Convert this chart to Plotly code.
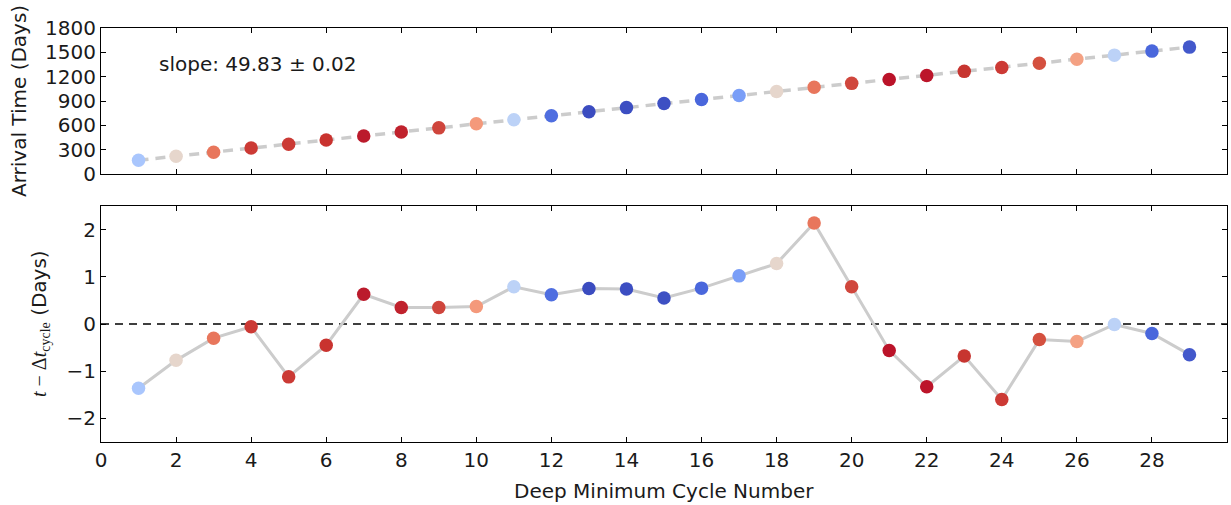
import numpy as np
import plotly.graph_objects as go
from plotly.subplots import make_subplots

# Deep minimum cycle numbers
cycle = list(range(1, 30))

# Arrival time of each deep minimum (days)
arrival_days = [168.5, 218.9, 269.2, 319.3, 368.0, 418.5, 469.4, 519.0, 568.8, 618.7,
                668.9, 718.6, 768.5, 818.4, 868.0, 918.0, 968.1, 1018.2, 1068.9, 1117.4,
                1165.9, 1214.9, 1265.4, 1314.3, 1365.4, 1415.2, 1465.4, 1515.0, 1564.4]

# Residual from the mean cycle length (days)
residual_days = [-1.36, -0.77, -0.30, -0.06, -1.12, -0.45, 0.63, 0.35, 0.35, 0.37,
                 0.79, 0.62, 0.75, 0.74, 0.55, 0.76, 1.02, 1.28, 2.14, 0.79,
                 -0.56, -1.33, -0.68, -1.60, -0.33, -0.37, -0.01, -0.20, -0.65]

# Per-point colours (coolwarm colormap)
point_colors = ["#a9c6fd", "#e6d6cc", "#e8765c", "#cc3a35", "#cb3a35", "#c9332f", "#bb1b2c",
                "#c0222d", "#cf453c", "#f4997b", "#bcd2f7", "#4f6ee0", "#3b4cc0", "#3c4ec2",
                "#3d50c3", "#4a67dc", "#7a9ef7", "#e6d6cc", "#e8765c", "#d0473d", "#bb1329",
                "#bc152a", "#c73530", "#cc3a35", "#d4503f", "#f4a183", "#bcd2f7", "#4a67dc",
                "#4358cb"]

slope_text = "slope: 49.83 ± 0.02"

FONT = "DejaVu Sans"
FS = 20
TXT = "#1a1a1a"
GRAY = "#cccccc"

fit = np.polyfit(cycle, arrival_days, 1)
fit_y = np.polyval(fit, cycle)

fig = make_subplots(rows=2, cols=1, shared_xaxes=False, vertical_spacing=0.0)

# Upper panel: arrival times with linear fit
fig.add_trace(go.Scatter(x=cycle, y=fit_y, mode="lines",
                         line=dict(color=GRAY, width=3.5, dash="10px,7px"),
                         hoverinfo="skip", showlegend=False), row=1, col=1)
fig.add_trace(go.Scatter(x=cycle, y=arrival_days, mode="markers",
                         marker=dict(size=13.5, color=point_colors, line=dict(width=0)),
                         showlegend=False), row=1, col=1)

# Lower panel: residuals
fig.add_trace(go.Scatter(x=[0, 30], y=[0, 0], mode="lines",
                         line=dict(color="black", width=1.6, dash="8px,6px"),
                         hoverinfo="skip", showlegend=False), row=2, col=1)
fig.add_trace(go.Scatter(x=cycle, y=residual_days, mode="lines",
                         line=dict(color=GRAY, width=3),
                         hoverinfo="skip", showlegend=False), row=2, col=1)
fig.add_trace(go.Scatter(x=cycle, y=residual_days, mode="markers",
                         marker=dict(size=13.5, color=point_colors, line=dict(width=0)),
                         showlegend=False), row=2, col=1)

axis_common = dict(showline=True, linecolor="black", linewidth=1.2, mirror="ticks",
                   ticks="inside", ticklen=5, tickwidth=1, tickcolor="black",
                   showgrid=False, zeroline=False,
                   tickfont=dict(family=FONT, size=FS, color=TXT))

fig.update_xaxes(range=[0, 30], tickvals=list(range(0, 30, 2)), **axis_common)
fig.update_xaxes(showticklabels=False, row=1, col=1)
fig.update_yaxes(range=[0, 1800], tickvals=list(range(0, 1801, 300)), row=1, col=1, **axis_common)
fig.update_yaxes(range=[-2.5, 2.5], tickvals=[-2, -1, 0, 1, 2], row=2, col=1, **axis_common)

L, R, T, B = 101, 4, 28, 63
W, H = 1231, 505
plot_h = H - T - B
plot_w = W - L - R


def py(pix):
    return (H - B - pix) / plot_h


def px(pix):
    return (pix - L) / plot_w


fig.update_layout(
    width=W, height=H,
    margin=dict(l=L, r=R, t=T, b=B),
    paper_bgcolor="white", plot_bgcolor="white",
    font=dict(family=FONT, size=FS, color=TXT),
    yaxis=dict(domain=[py(174), 1.0]),
    yaxis2=dict(domain=[0.0, py(206)]),
)

label_font = dict(family=FONT, size=FS, color=TXT)
annotations = [
    dict(text=slope_text, x=px(157), y=py(64), xref="paper", yref="paper",
         xanchor="left", yanchor="middle", showarrow=False, font=label_font),
    dict(text="Deep Minimum Cycle Number", x=px(664), y=py(491), xref="paper", yref="paper",
         xanchor="center", yanchor="middle", showarrow=False, font=label_font),
    dict(text="Arrival Time (Days)", x=px(19), y=py(101), xref="paper", yref="paper",
         xanchor="center", yanchor="middle", textangle=-90, showarrow=False,
         font=label_font),
    dict(text=("<span style='font-family:Liberation Serif'><i>t</i> − Δ<i>t</i>"
               "<sub>cycle</sub></span> (Days)"),
         x=px(40), y=py(324), xref="paper", yref="paper",
         xanchor="center", yanchor="middle", textangle=-90, showarrow=False,
         font=label_font),
]
fig.update_layout(annotations=annotations)

fig.write_html("out.html")
